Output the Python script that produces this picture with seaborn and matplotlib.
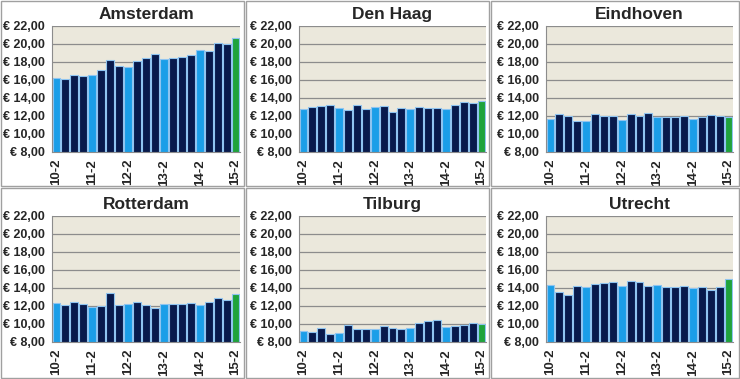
import numpy as np
import pandas as pd
import matplotlib.pyplot as plt
import seaborn as sns
from matplotlib.patches import Rectangle
from matplotlib.ticker import FuncFormatter

quarters = ['10-2', '10-3', '10-4', '11-1', '11-2', '11-3', '11-4', '12-1', '12-2', '12-3', '12-4',
            '13-1', '13-2', '13-3', '13-4', '14-1', '14-2', '14-3', '14-4', '15-1', '15-2']
tick_labels = ['10-2', '11-2', '12-2', '13-2', '14-2', '15-2']

amsterdam = [16.2, 16.1, 16.6, 16.5, 16.6, 17.1, 18.2, 17.6, 17.4, 18.1, 18.5, 18.9, 18.3, 18.5, 18.6, 18.8, 19.3, 19.2, 20.1, 20.0, 20.7]
den_haag = [12.8, 13.0, 13.1, 13.2, 12.9, 12.7, 13.2, 12.8, 13.0, 13.1, 12.4, 12.9, 12.8, 13.0, 12.9, 12.9, 12.8, 13.2, 13.6, 13.4, 13.7]
eindhoven = [11.7, 12.2, 12.0, 11.4, 11.5, 12.2, 12.0, 12.0, 11.6, 12.2, 12.0, 12.3, 11.9, 11.9, 11.9, 12.0, 11.7, 11.9, 12.1, 12.0, 11.9]
rotterdam = [12.3, 12.1, 12.4, 12.2, 11.9, 12.0, 13.4, 12.1, 12.2, 12.5, 12.1, 11.8, 12.2, 12.2, 12.2, 12.3, 12.1, 12.5, 12.9, 12.7, 13.3]
tilburg = [9.2, 9.1, 9.6, 8.9, 9.0, 9.9, 9.5, 9.4, 9.4, 9.8, 9.6, 9.5, 9.6, 10.1, 10.3, 10.5, 9.7, 9.8, 9.9, 10.1, 10.0]
utrecht = [14.3, 13.6, 13.2, 14.2, 14.1, 14.5, 14.6, 14.7, 14.2, 14.8, 14.7, 14.2, 14.3, 14.1, 14.1, 14.2, 14.0, 14.1, 13.8, 14.1, 15.0]

cities = ['Amsterdam', 'Den Haag', 'Eindhoven', 'Rotterdam', 'Tilburg', 'Utrecht']
series = [amsterdam, den_haag, eindhoven, rotterdam, tilburg, utrecht]

light_blue = '#1b9ee8'
navy = '#081a4c'
green = '#1fa33c'
bar_colors = {}
for i, q in enumerate(quarters):
    if i == len(quarters) - 1:
        bar_colors[q] = green
    elif q.endswith('-2'):
        bar_colors[q] = light_blue
    else:
        bar_colors[q] = navy

sns.set_style('white')
plt.rcParams['font.family'] = ['Liberation Sans', 'DejaVu Sans']

fig = plt.figure(figsize=(7.4, 3.79), dpi=100)

# panel boxes (pixels): x0, x1 for columns, y0, y1 for rows
col_box = [(0, 245), (245, 490), (490, 740)]
row_box = [(0, 187), (187, 379)]
# plot area (pixels)
col_plot = [(52, 240), (299, 486), (546, 733)]
row_plot = [(26, 152), (216, 342)]

W, H = 740, 379


def euro(v, pos):
    return '€ ' + f'{v:.2f}'.replace('.', ',')


for k, (city, vals) in enumerate(zip(cities, series)):
    r, c = divmod(k, 3)
    bx0, bx1 = col_box[c]
    by0, by1 = row_box[r]
    fig.patches.append(Rectangle((bx0 / W + 0.001, 1 - by1 / H + 0.002), (bx1 - bx0) / W - 0.003,
                                 (by1 - by0) / H - 0.004, transform=fig.transFigure,
                                 fill=False, edgecolor='#a0a0a0', linewidth=1.0))
    px0, px1 = col_plot[c]
    py0, py1 = row_plot[r]
    ax = fig.add_axes([px0 / W, 1 - py1 / H, (px1 - px0) / W, (py1 - py0) / H])
    df = pd.DataFrame({'quarter': quarters, 'price': vals})
    sns.barplot(data=df, x='quarter', y='price', hue='quarter', palette=bar_colors,
                legend=False, width=0.88, saturation=1, edgecolor='#8fc4f0', linewidth=0.8, ax=ax)
    ax.set_facecolor('#ebe8dc')
    ax.set_ylim(8, 22)
    ax.set_yticks(np.arange(8, 23, 2))
    ax.yaxis.set_major_formatter(FuncFormatter(euro))
    ax.set_xlim(-0.5, len(quarters) - 0.5)
    ax.set_xticks([quarters.index(t) for t in tick_labels])
    ax.set_xticklabels(tick_labels, rotation=90, fontweight='bold', fontsize=9.5)
    for lab in ax.get_yticklabels():
        lab.set_fontweight('bold')
        lab.set_fontsize(9)
    ax.grid(axis='y', color='#8c8c8c', linewidth=0.9)
    ax.set_axisbelow(True)
    for side in ['top', 'right']:
        ax.spines[side].set_visible(False)
    ax.spines['left'].set_color('#8c8c8c')
    ax.spines['bottom'].set_color('#8c8c8c')
    ax.tick_params(axis='both', length=3, color='#8c8c8c', pad=2, direction='out')
    ax.set_xlabel('')
    ax.set_ylabel('')
    ax.set_title(city, fontweight='bold', fontsize=12.5, pad=5)

fig.savefig('out.png', dpi=100)
